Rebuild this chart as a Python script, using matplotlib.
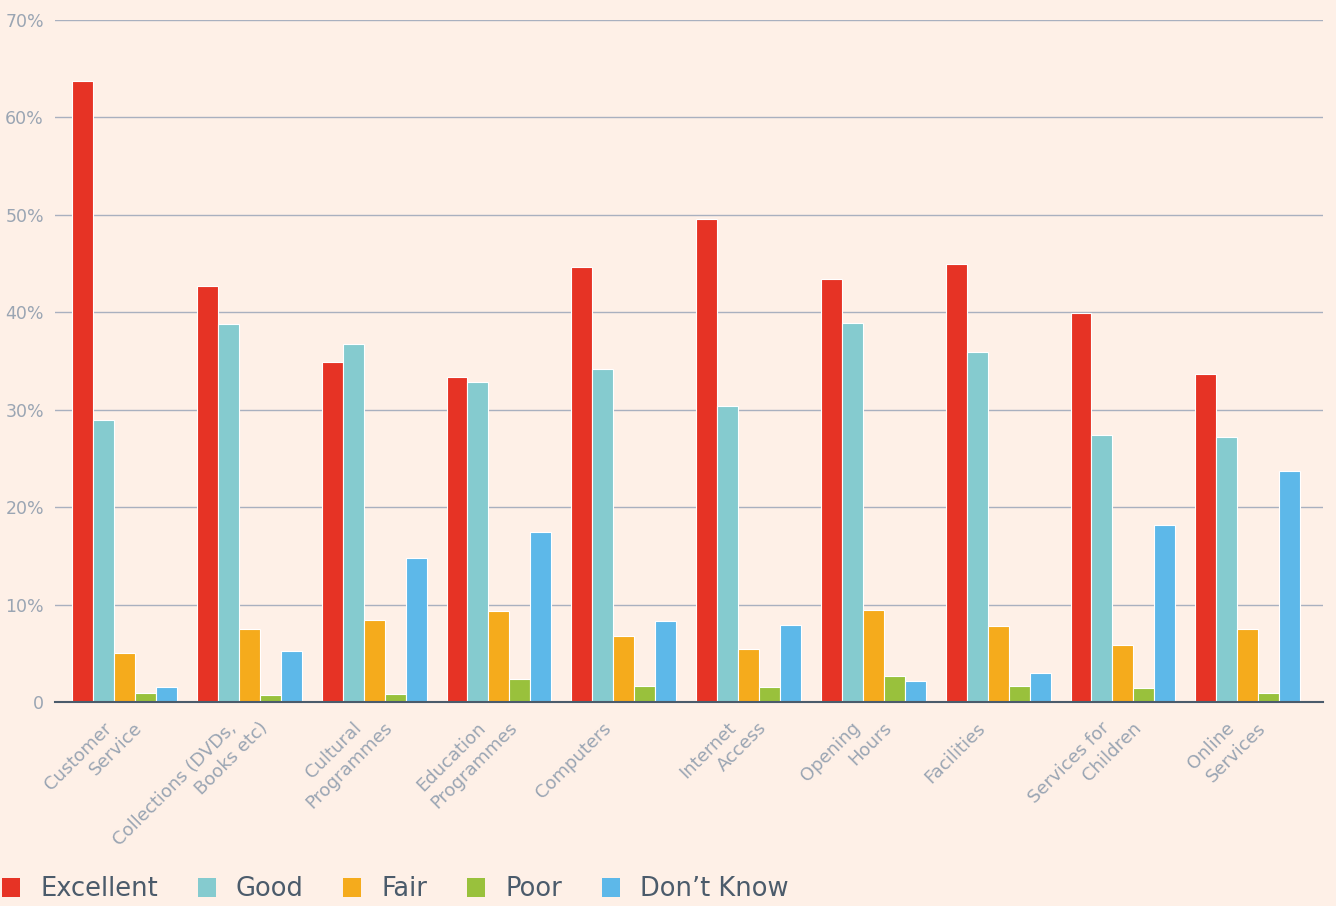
import numpy as np
import matplotlib
matplotlib.use('Agg')
import matplotlib.pyplot as plt
import matplotlib.transforms as mtransforms
from matplotlib.patches import Patch
from matplotlib.ticker import FuncFormatter

categories = ['Customer\nService', 'Collections (DVDs,\nBooks etc)', 'Cultural\nProgrammes',
              'Education\nProgrammes', 'Computers', 'Internet\nAccess', 'Opening\nHours',
              'Facilities', 'Services for\nChildren', 'Online\nServices']

series_names = ['Excellent', 'Good', 'Fair', 'Poor', 'Don\u2019t Know']

excellent = [63.7, 42.7, 34.9, 33.4, 44.6, 49.6, 43.4, 45.0, 39.9, 33.7]
good = [28.9, 38.8, 36.7, 32.8, 34.2, 30.4, 38.9, 35.9, 27.4, 27.2]
fair = [5.0, 7.5, 8.4, 9.3, 6.8, 5.4, 9.4, 7.8, 5.9, 7.5]
poor = [0.9, 0.7, 0.8, 2.4, 1.6, 1.5, 2.7, 1.6, 1.4, 0.9]
dont_know = [1.5, 5.2, 14.8, 17.4, 8.3, 7.9, 2.2, 3.0, 18.2, 23.7]

colors = ['#e63325', '#85cbcf', '#f5ab1c', '#99c13c', '#5db8e9']

bg = '#fef0e7'
grid_col = '#a9b0bf'
tick_col = '#9aa5b3'
legend_col = '#4b5b6b'

fig = plt.figure(figsize=(13.36, 9.06), dpi=100, facecolor=bg)
ax = fig.add_axes([55 / 1336, 1 - 702 / 906, 1268 / 1336, 682 / 906])
ax.set_facecolor(bg)

x = np.arange(len(categories))
w = 0.168
for j, vals in enumerate([excellent, good, fair, poor, dont_know]):
    ax.bar(x + (j - 2) * w, vals, width=w, color=colors[j],
           edgecolor='white', linewidth=0.8, zorder=3)

ax.set_ylim(0, 70)
ax.set_xlim(-0.557, 9.603)
ax.set_yticks(np.arange(0, 71, 10))
ax.yaxis.set_major_formatter(FuncFormatter(lambda v, p: '0' if v == 0 else f'{v:.0f}%'))
ax.grid(axis='y', color=grid_col, linewidth=1, zorder=0)
ax.tick_params(axis='y', length=0, pad=8, labelsize=12.5, labelcolor=tick_col)

for s in ['top', 'right', 'left']:
    ax.spines[s].set_visible(False)
ax.spines['bottom'].set_color('#4b5b6b')
ax.spines['bottom'].set_linewidth(1.5)
ax.spines['bottom'].set_zorder(4)

# category labels: each line placed on its own, second line shifted right
ax.set_xticks(x)
ax.set_xticklabels([])
ax.tick_params(axis='x', length=0)
for i, lab in enumerate(categories):
    for k, line in enumerate(lab.split('\n')):
        off = mtransforms.ScaledTranslation((-22 + 31 * k) / 100, -17 / 100, fig.dpi_scale_trans)
        ax.text(i, 0, line, transform=ax.get_xaxis_transform() + off,
                rotation=45, ha='right', va='top', rotation_mode='anchor',
                fontsize=13, color=tick_col)

handles = [Patch(facecolor=c, edgecolor='none') for c in colors]
fig.legend(handles, series_names, loc='lower left', bbox_to_anchor=(2 / 1336, 0.004),
           ncol=5, frameon=False, fontsize=18.5, labelcolor=legend_col,
           handlelength=0.7, handleheight=0.75, handletextpad=0.78,
           columnspacing=1.55, borderpad=0, borderaxespad=0)

fig.savefig('out.png', dpi=100, facecolor=bg)
